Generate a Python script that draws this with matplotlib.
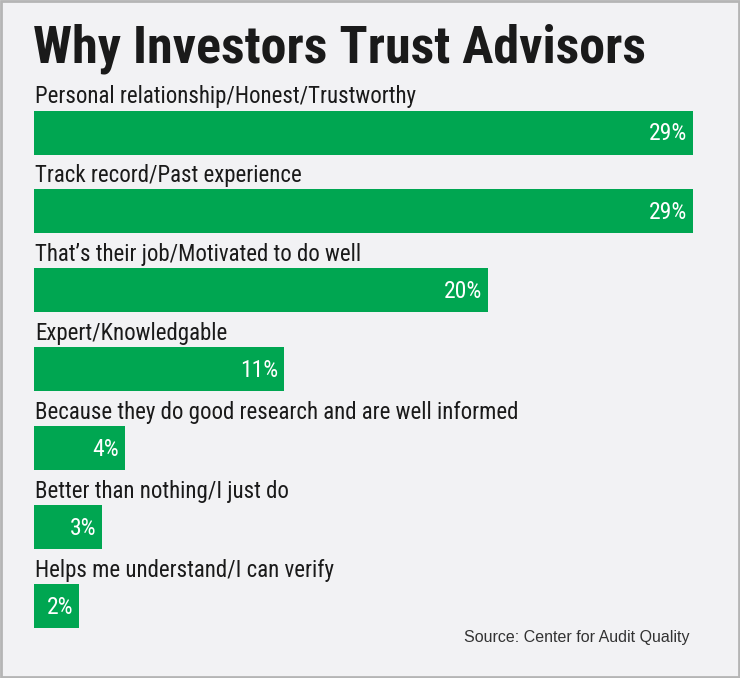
import matplotlib
matplotlib.use('Agg')
import matplotlib.pyplot as plt
from matplotlib import font_manager
from matplotlib.patches import Rectangle

categories = [
    'Personal relationship/Honest/Trustworthy',
    'Track record/Past experience',
    "That\u2019s their job/Motivated to do well",
    'Expert/Knowledgable',
    'Because they do good research and are well informed',
    'Better than nothing/I just do',
    'Helps me understand/I can verify',
]
values = [29, 29, 20, 11, 4, 3, 2]
value_labels = ['29%', '29%', '20%', '11%', '4%', '3%', '2%']

TITLE = 'Why Investors Trust Advisors'
SOURCE = 'Source: Center for Audit Quality'

GREEN = '#00a651'
BG = '#f2f2f4'


def pick_font(prefs):
    have = {f.name for f in font_manager.fontManager.ttflist}
    for p in prefs:
        if p in have:
            return p
    return 'DejaVu Sans'


NARROW = [pick_font(['Roboto Condensed', 'Archivo Narrow', 'PT Sans Narrow',
                     'Liberation Sans Narrow', 'Barlow Condensed']),
          'DejaVu Sans']
PLAIN = [pick_font(['Liberation Sans', 'Arimo']), 'DejaVu Sans']

W, H = 740, 678
px_per_pct = 22.72
row_px = 78.9
first_row = 132.5
bar_h = 44 / row_px

fig = plt.figure(figsize=(W / 100, H / 100), dpi=100)
fig.patch.set_facecolor(BG)
ax = fig.add_axes([0, 0, 1, 1])
ax.set_facecolor(BG)
ax.set_xlim(-34 / px_per_pct, (W - 34) / px_per_pct)
ax.set_ylim((H - first_row) / row_px, -first_row / row_px)
ax.axis('off')

ypos = list(range(len(values)))
ax.barh(ypos, values, height=bar_h, color=GREEN, left=0)

for y, v, lab, cat in zip(ypos, values, value_labels, categories):
    ax.text(v - 0.27, y + 8 / row_px, lab, ha='right', va='baseline',
            color='white', fontsize=17, family=NARROW)
    ax.text(0.04, y - 29 / row_px, cat, ha='left', va='baseline',
            color='#1a1a1a', fontsize=16.5, family=NARROW)

fig.text(33 / W, 1 - 63 / H, TITLE, ha='left', va='baseline', fontsize=37.5,
         fontweight='bold', color='#1a1a1a', family=NARROW)
fig.text(689 / W, 1 - 642 / H, SOURCE, ha='right', va='baseline',
         fontsize=11.5, color='#333333', family=PLAIN)

fig.patches.append(Rectangle((0.001, 0.001), 0.998, 0.998, transform=fig.transFigure,
                             fill=False, edgecolor='#b5b5b5', linewidth=2))

fig.savefig('out.png', dpi=100, facecolor=BG)
